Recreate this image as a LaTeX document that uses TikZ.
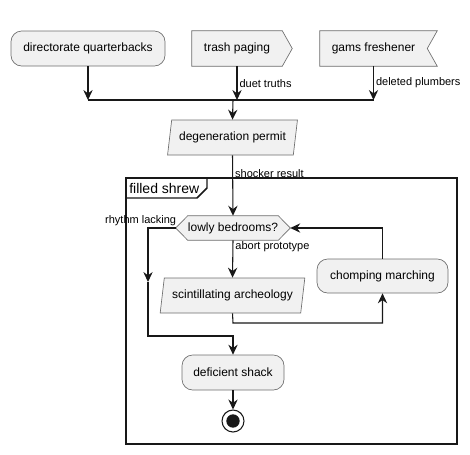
\documentclass[tikz,border=0pt]{standalone}
\usepackage{fontspec}
\setmainfont{Liberation Sans}
\usetikzlibrary{arrows.meta,shapes.geometric,backgrounds}
\definecolor{actfill}{HTML}{F1F1F1}
\definecolor{actline}{HTML}{181818}
\definecolor{actedge}{HTML}{6E6E6E}
\begin{document}
\begin{tikzpicture}[x=0.75pt,y=-0.75pt,
  every node/.style={font=\fontsize{9}{11}\selectfont},
  act/.style={draw=actedge,line width=0.5pt,fill=actfill,inner sep=0pt,minimum height=26.25pt},
  actbox/.style={act,rounded corners=8pt},
  actio/.style={act,trapezium,trapezium left angle=72,trapezium right angle=108,trapezium stretches=true},
  plainbox/.style={inner sep=0pt,minimum height=26.25pt},
  flow/.style={draw=actline,line width=0.8pt,-{Stealth[length=7.5pt,width=7pt,inset=2.5pt]}},
  wire/.style={draw=actline,line width=0.8pt},
  lbl/.style={font=\fontsize{8.25}{10}\selectfont,inner sep=1.5pt}]
  \useasboundingbox (0,0) rectangle (470,454);
  % top row
  \node[actbox,minimum width=115.5pt] (dq) at (88,48.5) {directorate quarterbacks};
  \node[plainbox,minimum width=67.5pt] (tp) at (237,48.5) {trash paging};
  \node[plainbox,minimum width=80.25pt] (gf) at (373.5,48.5) {gams freshener};
  \coordinate (mrgA) at (88,100);
  \coordinate (mrgB) at (237,100);
  \coordinate (mrgC) at (373.5,100);
  \coordinate (mrgD) at (233,100);
  \node[actio,minimum width=98.25pt] (dp) at (232.5,137.5) {degeneration permit};
  % group
  \draw[draw=actline,line width=1.1pt] (126,178) rectangle (457,444);
  \draw[draw=actline,line width=1.1pt] (126,198) -- (197,198) -- (207,188) -- (207,178);
  \node[font=\fontsize{10.5}{12}\selectfont,anchor=west,inner sep=0pt] (grp) at (129,188) {filled shrew};
  \node[plainbox,minimum width=63pt,minimum height=18pt] (lb) at (233,228) {lowly bedrooms?};
  \coordinate (lbw) at ([xshift=-9pt]lb.west);
  \coordinate (lbe) at ([xshift=9pt]lb.east);
  \node[actio,minimum width=108.75pt] (sa) at (232.5,295.5) {scintillating archeology};
  \node[actbox,minimum width=98.25pt,minimum height=25.5pt] (cm) at (382.5,276) {chomping marching};
  \node[actbox,minimum width=76.5pt] (ds) at (233,372.5) {deficient shack};
  \node[circle,draw=actline,line width=0.8pt,fill=white,minimum size=16.5pt,inner sep=0pt] (fin) at (233,421) {};
  \fill[actline] (fin.center) circle (5pt);
  \begin{scope}[on background layer]
    \draw[act] (tp.north west) -- (tp.north east) -- ([xshift=7.5pt]tp.east) -- (tp.south east) -- (tp.south west) -- cycle;
    \draw[act] (gf.north west) -- ([xshift=7.5pt]gf.north east) -- (gf.east) -- ([xshift=7.5pt]gf.south east) -- (gf.south west) -- cycle;
    \draw[act] (lb.north west) -- (lb.north east) -- (lbe) -- (lb.south east) -- (lb.south west) -- (lbw) -- cycle;
  \end{scope}
  % connectors
  \draw[flow] (dq.south) -- (mrgA);
  \draw[flow] (tp.south) -- (mrgB) node[lbl,pos=0.5,anchor=west] {duet truths};
  \draw[flow] (gf.south) -- (mrgC) node[lbl,pos=0.5,anchor=west] {deleted plumbers};
  \draw[wire] (mrgA) -- (mrgC);
  \draw[flow] (mrgD) -- (dp.north);
  \draw[flow] (dp.south) -- (lb.north) node[lbl,pos=0.3,anchor=west] {shocker result};
  \coordinate (lftA) at (148,228);
  \coordinate (lftB) at (148,282);
  \coordinate (lftC) at (148,336);
  \coordinate (jnB) at (233,336);
  \draw[flow] (lbw) -- (lftA) -- (lftB);
  \draw[flow] (lftB) -- (lftC) -- (jnB) -- (ds.north);
  \node[lbl,anchor=south east] at ([xshift=2pt]lbw) {rhythm lacking};
  \draw[flow] (lb.south) -- (sa.north) node[lbl,pos=0.18,anchor=west] {abort prototype};
  \coordinate (lpA) at (233,323);
  \coordinate (lpB) at (382.5,323);
  \coordinate (lpC) at (382.5,228);
  \draw[flow] (sa.south) -- (lpA) -- (lpB) -- (cm.south);
  \draw[flow] (cm.north) -- (lpC) -- (lbe);
  \draw[flow] (ds.south) -- (fin.north);
\end{tikzpicture}
\end{document}
